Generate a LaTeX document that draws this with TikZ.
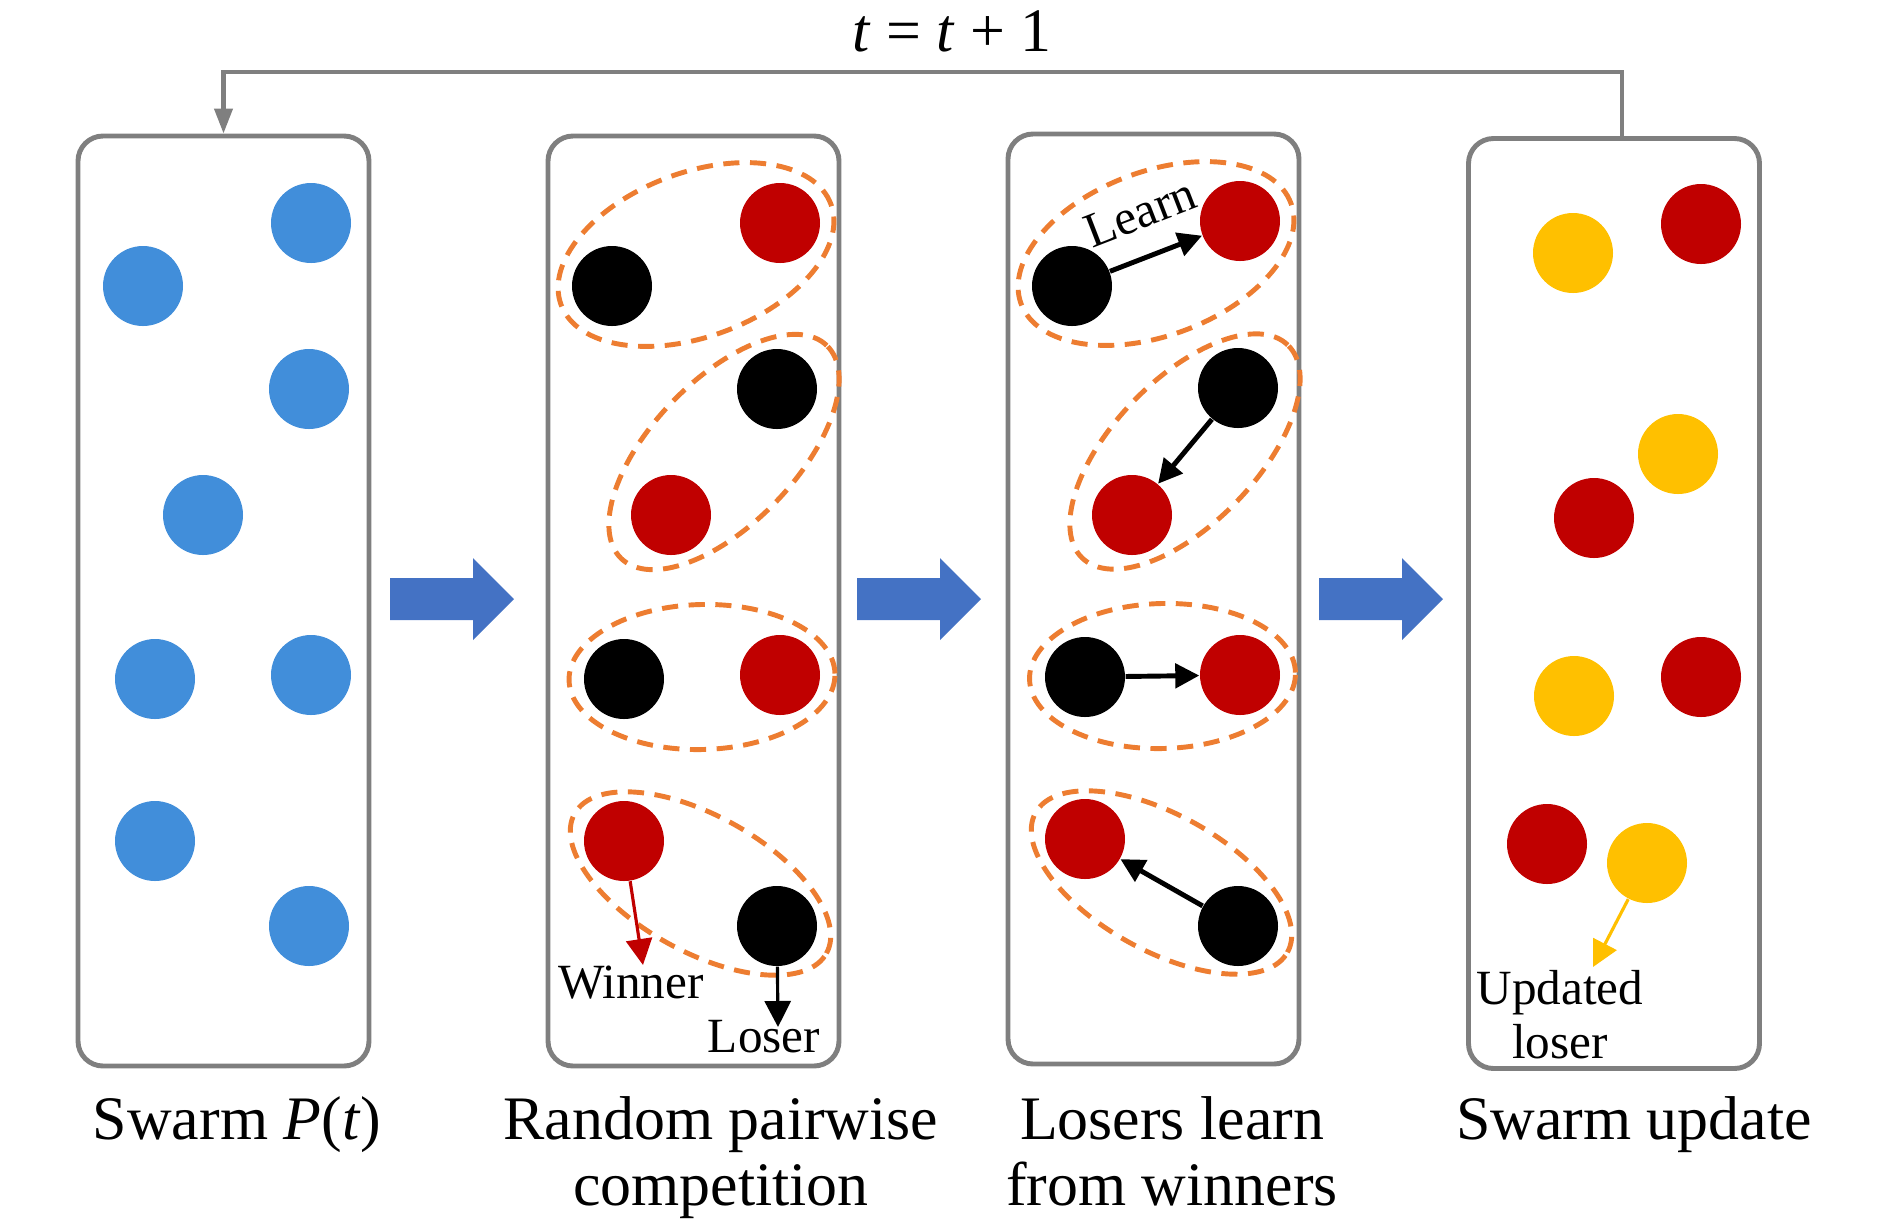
\documentclass[tikz,border=0pt]{standalone}
\usepackage{fontspec}
\setmainfont{Liberation Serif}
\usetikzlibrary{positioning,arrows.meta,calc,shapes.geometric}
\definecolor{swarmblue}{RGB}{65,142,218}
\definecolor{winred}{RGB}{192,0,0}
\definecolor{newyellow}{RGB}{255,192,0}
\definecolor{pairorange}{RGB}{237,125,49}
\definecolor{flowblue}{RGB}{68,114,196}
\definecolor{framegray}{RGB}{127,127,127}

\begin{document}
\begin{tikzpicture}[
    panel/.style={rectangle, rounded corners=0.25cm, draw=framegray, line width=1.4pt,
        minimum width=2.91cm, minimum height=9.30cm, inner sep=0pt},
    particle/.style={circle, minimum size=0.80cm, inner sep=0pt},
    pblue/.style={particle, fill=swarmblue},
    pred/.style={particle, fill=winred},
    pblack/.style={particle, fill=black},
    pyellow/.style={particle, fill=newyellow},
    pair/.style={ellipse, draw=pairorange, line width=1.4pt, dash pattern=on 4.6pt off 3pt, inner sep=0pt},
    learn/.style={-{Triangle[length=2.4mm,width=2.4mm]}, line width=1.4pt},
    thin arrow/.style={-{Triangle[length=2.6mm,width=2.6mm]}, line width=0.9pt},
    feedback/.style={-{Triangle[length=2.5mm,width=1.8mm]}, draw=framegray, line width=1.2pt},
    tag/.style={font=\fontsize{14}{15.3}\selectfont, inner sep=0pt, align=center},
    caption/.style={font=\fontsize{17.6}{18.8}\selectfont, inner sep=0pt, align=center}
  ]
  \useasboundingbox (0,0) rectangle (18.9,-12.26);

  % four stages
  \node[panel] (b1) at (2.235,-6.01) {};
  \node[panel] (b2) at (6.935,-6.01) {};
  \node[panel] (b3) at (11.535,-5.99) {};
  \node[panel] (b4) at (16.14,-6.035) {};

  % swarm P(t)
  \node[pblue] (s1) at (3.11,-2.23) {};
  \node[pblue] (s2) at (1.43,-2.86) {};
  \node[pblue] (s3) at (3.09,-3.89) {};
  \node[pblue] (s4) at (2.03,-5.15) {};
  \node[pblue] (s5) at (1.55,-6.79) {};
  \node[pblue] (s6) at (3.11,-6.75) {};
  \node[pblue] (s7) at (1.55,-8.41) {};
  \node[pblue] (s8) at (3.09,-9.26) {};

  % random pairwise competition
  \node[pblack] (c1) at (6.12,-2.86) {};
  \node[pred]   (c2) at (7.80,-2.23) {};
  \node[pblack] (c3) at (7.77,-3.89) {};
  \node[pred]   (c4) at (6.71,-5.15) {};
  \node[pblack] (c5) at (6.24,-6.79) {};
  \node[pred]   (c6) at (7.80,-6.75) {};
  \node[pred]   (c7) at (6.24,-8.41) {};
  \node[pblack] (c8) at (7.77,-9.26) {};
  \node[pair, minimum width=2.88cm, minimum height=1.64cm, rotate=20.5] (cr1) at ($(c1)!0.5!(c2)$) {};
  \node[pair, minimum width=2.96cm, minimum height=1.44cm, rotate=46] (cr2) at ($(c3)!0.5!(c4)$) {};
  \node[pair, minimum width=2.66cm, minimum height=1.45cm, rotate=1.5] (cr3) at ($(c5)!0.5!(c6)$) {};
  \node[pair, minimum width=2.88cm, minimum height=1.36cm, rotate=-29] (cr4) at ($(c7)!0.5!(c8)$) {};
  \coordinate (win) at (6.43,-9.65);
  \coordinate (lose) at (7.78,-10.27);
  \draw[thin arrow, winred] (c7) -- (win);
  \draw[thin arrow] (c8) -- (lose);
  \node[tag, anchor=base] (winner) at (6.31,-9.98) {Winner};
  \node[tag, anchor=base] (loser) at (7.64,-10.52) {Loser};

  % losers learn from winners
  \node[pblack] (l1) at (10.72,-2.86) {};
  \node[pred]   (l2) at (12.40,-2.21) {};
  \node[pblack] (l3) at (12.38,-3.88) {};
  \node[pred]   (l4) at (11.32,-5.15) {};
  \node[pblack] (l5) at (10.85,-6.77) {};
  \node[pred]   (l6) at (12.40,-6.75) {};
  \node[pred]   (l7) at (10.85,-8.39) {};
  \node[pblack] (l8) at (12.38,-9.26) {};
  \node[pair, minimum width=2.88cm, minimum height=1.64cm, rotate=20.5] (lr1) at ($(l1)!0.5!(l2)$) {};
  \node[pair, minimum width=2.96cm, minimum height=1.44cm, rotate=46] (lr2) at ($(l3)!0.5!(l4)$) {};
  \node[pair, minimum width=2.66cm, minimum height=1.45cm, rotate=1.5] (lr3) at ($(l5)!0.5!(l6)$) {};
  \node[pair, minimum width=2.88cm, minimum height=1.36cm, rotate=-29] (lr4) at ($(l7)!0.5!(l8)$) {};
  \draw[learn] (l1) -- node[tag, sloped, above=0.25cm] {Learn} (l2);
  \draw[learn] (l3) -- (l4);
  \draw[learn] (l5) -- (l6);
  \draw[learn] (l8) -- (l7);

  % swarm update
  \node[pyellow] (u1) at (15.73,-2.53) {};
  \node[pred]    (u2) at (17.01,-2.24) {};
  \node[pyellow] (u3) at (16.78,-4.54) {};
  \node[pred]    (u4) at (15.94,-5.18) {};
  \node[pyellow] (u5) at (15.74,-6.96) {};
  \node[pred]    (u6) at (17.01,-6.77) {};
  \node[pred]    (u7) at (15.47,-8.44) {};
  \node[pyellow] (u8) at (16.47,-8.63) {};
  \coordinate (upd) at (15.93,-9.67);
  \draw[thin arrow, newyellow] (u8) -- (upd);
  \node[tag, anchor=base] (updated) at (15.60,-10.58) {Updated\\loser};

  % flow between stages
  \foreach \x in {3.90,8.57,13.19}
    \fill[flowblue] (\x,-5.78) -- ++(0.83,0) -- ++(0,0.20) -- ++(0.41,-0.41)
      -- ++(-0.41,-0.41) -- ++(0,0.20) -- ++(-0.83,0) -- cycle;

  % next iteration
  \draw[feedback] ([xshift=0.08cm]b4.north) -- ++(0,0.64) -| (b1.north);
  \node[caption, anchor=base] (iter) at (9.52,-0.51) {\textit{t} = \textit{t} + 1};

  % captions
  \node[caption, anchor=base] (cap1) at (2.37,-11.39) {Swarm \textit{P}(\textit{t})};
  \node[caption] (cap2) at (7.21,-11.58) {Random pairwise\\competition};
  \node[caption] (cap3) at (11.72,-11.51) {Losers learn\\from winners};
  \node[caption, anchor=base] (cap4) at (16.34,-11.39) {Swarm update};
\end{tikzpicture}
\end{document}
